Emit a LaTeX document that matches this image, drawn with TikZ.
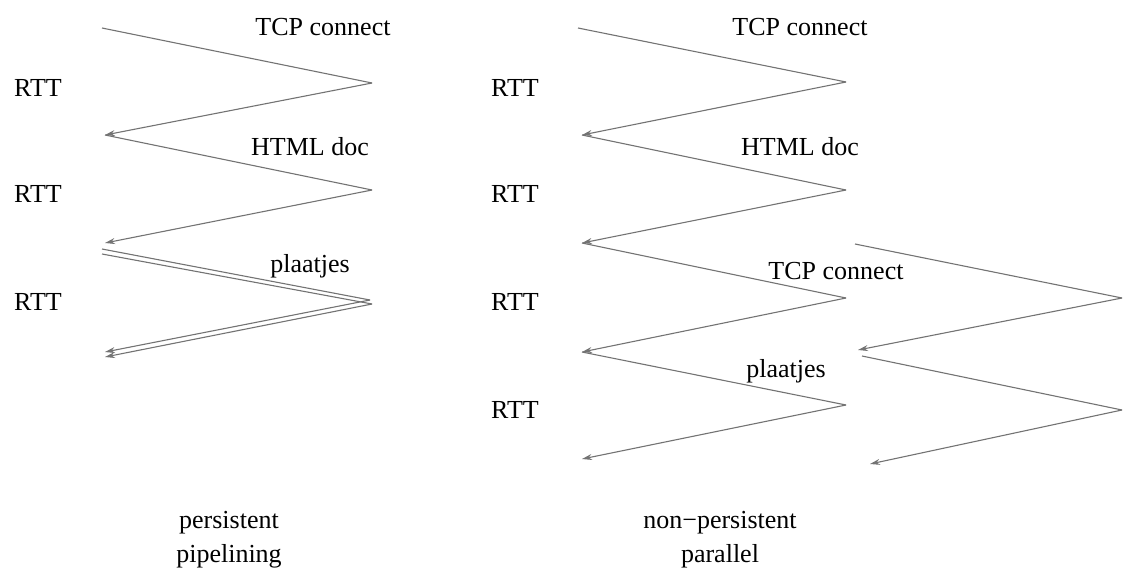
\documentclass[tikz,border=0pt]{standalone}
\usepackage{fontspec}
\setmainfont{Liberation Serif}
\usetikzlibrary{arrows.meta}
\begin{document}
\begin{tikzpicture}[x=1pt,y=-1pt,
  msg/.style={draw=black!55,line width=1.1pt,-{Stealth[length=10pt,width=6pt]}},
  seg/.style={draw=black!55,line width=1.1pt},
  lbl/.style={font=\fontsize{26}{28}\selectfont,inner sep=0pt}]
\useasboundingbox (0,0) rectangle (1130,573);
% left diagram points
\coordinate (l0) at (102,28);
\coordinate (l1) at (372,83);
\coordinate (l2) at (105,135);
\coordinate (l3) at (372,190);
\coordinate (l4) at (105,243);
\coordinate (l4a) at (102,249);
\coordinate (l5a) at (370,300);
\coordinate (l6a) at (105,352);
\coordinate (l4b) at (102,254);
\coordinate (l5b) at (372,304);
\coordinate (l6b) at (105,357);
\draw[seg] (l0) -- (l1); \draw[msg] (l1) -- (l2);
\draw[seg] (l2) -- (l3); \draw[msg] (l3) -- (l4);
\draw[seg] (l4a) -- (l5a); \draw[msg] (l5a) -- (l6a);
\draw[seg] (l4b) -- (l5b); \draw[msg] (l5b) -- (l6b);
% right diagram points
\coordinate (r0) at (578,28);
\coordinate (r1) at (846,82);
\coordinate (r2) at (582,135);
\coordinate (r3) at (846,190);
\coordinate (r4) at (582,243);
\coordinate (r5) at (846,298);
\coordinate (r6) at (582,352);
\coordinate (r7) at (846,405);
\coordinate (r8) at (582,459);
\draw[seg] (r0) -- (r1); \draw[msg] (r1) -- (r2);
\draw[seg] (r2) -- (r3); \draw[msg] (r3) -- (r4);
\draw[seg] (r4) -- (r5); \draw[msg] (r5) -- (r6);
\draw[seg] (r6) -- (r7); \draw[msg] (r7) -- (r8);
\coordinate (p0) at (855,244);
\coordinate (p1) at (1122,298);
\coordinate (p2) at (858,350);
\coordinate (p3) at (862,356);
\coordinate (p4) at (1122,410);
\coordinate (p5) at (870,464);
\draw[seg] (p0) -- (p1); \draw[msg] (p1) -- (p2);
\draw[seg] (p3) -- (p4); \draw[msg] (p4) -- (p5);
% labels
\node[lbl] (lt1) at (323,27) {TCP connect};
\node[lbl] (lt2) at (310,147) {HTML doc};
\node[lbl] (lt3) at (310,266) {plaatjes};
\node[lbl] (lr1) at (38,88) {RTT};
\node[lbl] (lr2) at (38,194) {RTT};
\node[lbl] (lr3) at (38,302) {RTT};
\node[lbl] (rt1) at (800,27) {TCP connect};
\node[lbl] (rt2) at (800,147) {HTML doc};
\node[lbl] (rt3) at (836,271) {TCP connect};
\node[lbl] (rt4) at (786,371) {plaatjes};
\node[lbl] (rr1) at (515,88) {RTT};
\node[lbl] (rr2) at (515,194) {RTT};
\node[lbl] (rr3) at (515,302) {RTT};
\node[lbl] (rr4) at (515,410) {RTT};
\node[lbl] (b1) at (229,523) {persistent};
\node[lbl] (b2) at (229,556) {pipelining};
\node[lbl] (b3) at (720,523) {non\textminus persistent};
\node[lbl] (b4) at (720,556) {parallel};
\end{tikzpicture}
\end{document}
